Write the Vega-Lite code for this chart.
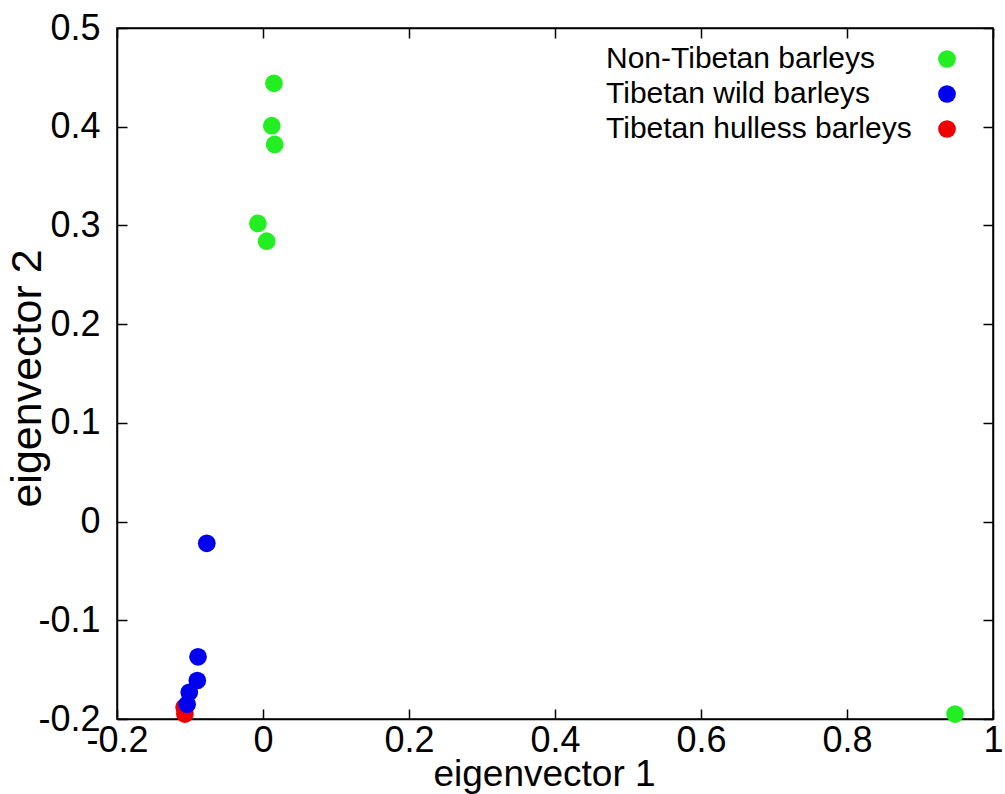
{
  "$schema": "https://vega.github.io/schema/vega-lite/v6.json",
  "width": 876,
  "height": 691,
  "autosize": {"type": "none"},
  "padding": {"left": 117, "top": 28, "right": 12, "bottom": 75},
  "background": "white",
  "config": {
    "view": {"stroke": "black", "strokeWidth": 1.5},
    "font": "Liberation Sans",
    "axis": {
      "grid": false,
      "domainColor": "black",
      "domainWidth": 1.5,
      "tickColor": "black",
      "tickWidth": 1.5,
      "tickSize": -10,
      "labelFont": "Liberation Sans",
      "labelFontSize": 36,
      "labelColor": "black",
      "labelFlush": false,
      "labelOverlap": false,
      "titleFont": "Liberation Sans",
      "titleFontWeight": "normal",
      "titleColor": "black",
      "titleFontSize": 37,
      "labelExpr": "toString(round(datum.value*10)/10)"
    },
    "legend": {
      "labelFont": "Liberation Sans",
      "labelFontSize": 30,
      "labelColor": "black",
      "labelLimit": 500
    }
  },
  "data": {
    "values": [
      {"ev1": -0.108, "ev2": -0.188, "group": "Tibetan hulless barleys"},
      {"ev1": -0.107, "ev2": -0.195, "group": "Tibetan hulless barleys"},
      {"ev1": 0.015, "ev2": 0.444, "group": "Non-Tibetan barleys"},
      {"ev1": 0.012, "ev2": 0.401, "group": "Non-Tibetan barleys"},
      {"ev1": 0.016, "ev2": 0.382, "group": "Non-Tibetan barleys"},
      {"ev1": -0.007, "ev2": 0.302, "group": "Non-Tibetan barleys"},
      {"ev1": 0.005, "ev2": 0.284, "group": "Non-Tibetan barleys"},
      {"ev1": 0.948, "ev2": -0.195, "group": "Non-Tibetan barleys"},
      {"ev1": -0.077, "ev2": -0.022, "group": "Tibetan wild barleys"},
      {"ev1": -0.089, "ev2": -0.137, "group": "Tibetan wild barleys"},
      {"ev1": -0.090, "ev2": -0.161, "group": "Tibetan wild barleys"},
      {"ev1": -0.101, "ev2": -0.173, "group": "Tibetan wild barleys"},
      {"ev1": -0.104, "ev2": -0.185, "group": "Tibetan wild barleys"}
    ]
  },
  "layer": [
    {
      "mark": {"type": "point", "filled": true, "opacity": 1, "size": 314, "strokeWidth": 0},
      "encoding": {
        "x": {
          "field": "ev1", "type": "quantitative",
          "scale": {"domain": [-0.2, 1], "nice": false, "zero": false},
          "axis": {
            "values": [-0.2, 0, 0.2, 0.4, 0.6, 0.8, 1],
            "title": "eigenvector 1",
            "labelPadding": 14,
            "titleX": 427, "titleY": 66, "titleBaseline": "alphabetic", "titleAlign": "center"
          }
        },
        "y": {
          "field": "ev2", "type": "quantitative",
          "scale": {"domain": [-0.2, 0.5], "nice": false, "zero": false},
          "axis": {
            "values": [-0.2, -0.1, 0, 0.1, 0.2, 0.3, 0.4, 0.5],
            "title": "eigenvector 2",
            "labelPadding": 27,
            "titleX": -90, "titleY": 350, "titleBaseline": "middle", "titleAlign": "center", "titleAngle": -90,
            "titleFontSize": 43
          }
        },
        "color": {
          "field": "group", "type": "nominal",
          "scale": {
            "domain": ["Non-Tibetan barleys", "Tibetan wild barleys", "Tibetan hulless barleys"],
            "range": ["#22ee22", "#0000ee", "#ee0000"]
          },
          "legend": {
            "title": null,
            "orient": "none",
            "legendX": 815,
            "legendY": 16,
            "symbolType": "circle",
            "symbolSize": 314,
            "symbolStrokeWidth": 0,
            "symbolOpacity": 1,
            "labelOffset": -356,
            "labelAlign": "left",
            "rowPadding": 5
          }
        }
      }
    },
    {
      "mark": {"type": "point", "opacity": 0},
      "encoding": {
        "x": {
          "field": "ev1", "type": "quantitative",
          "axis": {"orient": "top", "values": [-0.2, 0, 0.2, 0.4, 0.6, 0.8, 1], "labels": false, "title": null}
        },
        "y": {
          "field": "ev2", "type": "quantitative",
          "axis": {"orient": "right", "values": [-0.2, -0.1, 0, 0.1, 0.2, 0.3, 0.4, 0.5], "labels": false, "title": null}
        }
      }
    }
  ],
  "resolve": {"axis": {"x": "independent", "y": "independent"}}
}
